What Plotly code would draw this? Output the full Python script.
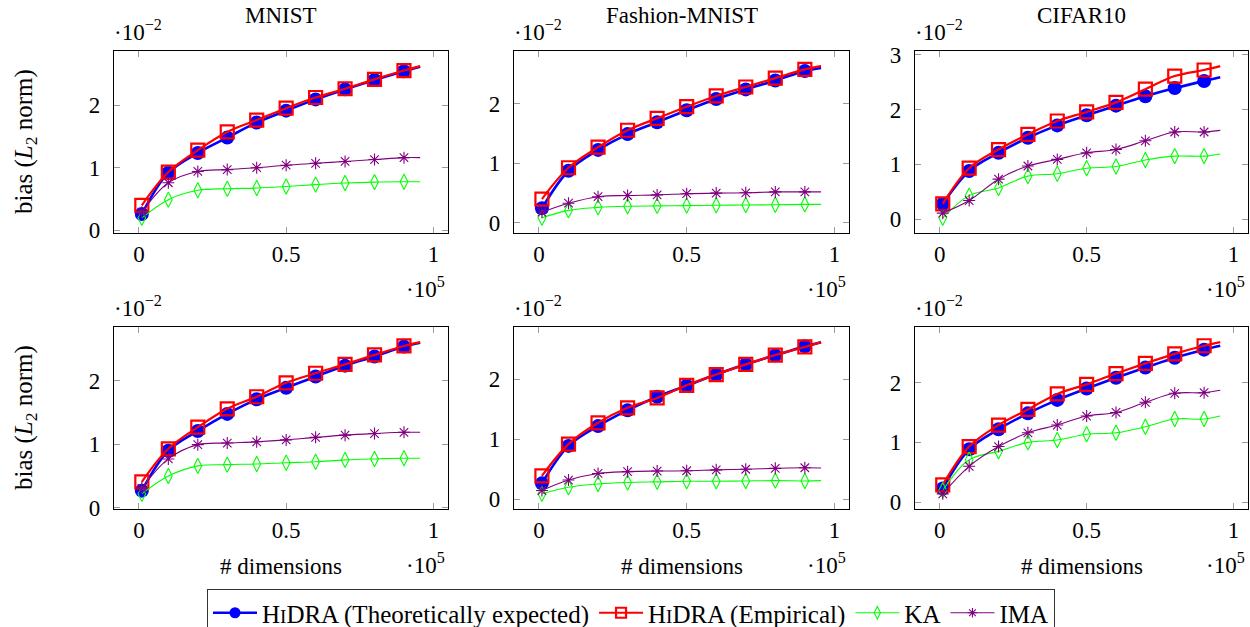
import plotly.graph_objects as go

# x values in units of 10^5 dimensions (last point = line end, unmarked)
dims = [0.01, 0.1, 0.2, 0.3, 0.4, 0.5, 0.6, 0.7, 0.8, 0.9, 0.955]
n_marked = 10

datasets = ["MNIST", "Fashion-MNIST", "CIFAR10"]
x_ticks = [0, 0.5, 1]
x_ticktext = ["0", "0.5", "1"]

# bias values in units of 10^-2 ; top row
mnist_top_theory = [0.26, 0.92, 1.235, 1.48, 1.72, 1.91, 2.09, 2.25, 2.40, 2.54, 2.61]
mnist_top_emp    = [0.40, 0.93, 1.28, 1.57, 1.76, 1.95, 2.12, 2.26, 2.41, 2.55, 2.62]
mnist_top_ka     = [0.20, 0.49, 0.64, 0.665, 0.675, 0.70, 0.73, 0.755, 0.77, 0.775, 0.775]
mnist_top_ima    = [0.29, 0.76, 0.94, 0.97, 1.00, 1.04, 1.07, 1.10, 1.13, 1.16, 1.16]

fmnist_top_theory = [0.245, 0.875, 1.225, 1.49, 1.69, 1.89, 2.08, 2.24, 2.39, 2.55, 2.60]
fmnist_top_emp    = [0.40, 0.925, 1.27, 1.555, 1.755, 1.95, 2.13, 2.28, 2.43, 2.575, 2.63]
fmnist_top_ka     = [0.085, 0.21, 0.26, 0.28, 0.285, 0.29, 0.295, 0.30, 0.305, 0.31, 0.31]
fmnist_top_ima    = [0.18, 0.33, 0.44, 0.46, 0.47, 0.49, 0.50, 0.505, 0.52, 0.52, 0.52]

cifar_top_theory = [0.28, 0.88, 1.21, 1.485, 1.71, 1.895, 2.07, 2.24, 2.39, 2.52, 2.59]
cifar_top_emp    = [0.28, 0.93, 1.27, 1.545, 1.79, 1.955, 2.13, 2.37, 2.61, 2.72, 2.79]
cifar_top_ka     = [0.025, 0.43, 0.57, 0.785, 0.83, 0.93, 0.96, 1.08, 1.15, 1.15, 1.19]
cifar_top_ima    = [0.11, 0.34, 0.73, 0.97, 1.09, 1.21, 1.27, 1.43, 1.59, 1.59, 1.62]

# bottom row
mnist_bot_theory = [0.27, 0.90, 1.21, 1.48, 1.71, 1.89, 2.07, 2.24, 2.385, 2.54, 2.60]
mnist_bot_emp    = [0.41, 0.93, 1.27, 1.56, 1.75, 1.97, 2.12, 2.26, 2.41, 2.55, 2.61]
mnist_bot_ka     = [0.22, 0.50, 0.66, 0.68, 0.69, 0.71, 0.725, 0.755, 0.77, 0.78, 0.78]
mnist_bot_ima    = [0.31, 0.77, 0.995, 1.02, 1.04, 1.07, 1.11, 1.145, 1.17, 1.19, 1.19]

fmnist_bot_theory = [0.265, 0.89, 1.22, 1.485, 1.71, 1.895, 2.08, 2.25, 2.40, 2.55, 2.62]
fmnist_bot_emp    = [0.39, 0.92, 1.275, 1.525, 1.69, 1.90, 2.08, 2.25, 2.405, 2.54, 2.62]
fmnist_bot_ka     = [0.09, 0.20, 0.255, 0.28, 0.29, 0.30, 0.30, 0.305, 0.31, 0.305, 0.31]
fmnist_bot_ima    = [0.145, 0.32, 0.43, 0.46, 0.47, 0.475, 0.49, 0.50, 0.515, 0.525, 0.52]

cifar_bot_theory = [0.23, 0.885, 1.22, 1.485, 1.71, 1.90, 2.08, 2.25, 2.415, 2.55, 2.615]
cifar_bot_emp    = [0.29, 0.93, 1.29, 1.55, 1.81, 1.97, 2.15, 2.32, 2.48, 2.615, 2.675]
cifar_bot_ka     = [0.20, 0.71, 0.85, 1.00, 1.04, 1.135, 1.16, 1.26, 1.39, 1.39, 1.44]
cifar_bot_ima    = [0.14, 0.60, 0.93, 1.16, 1.29, 1.44, 1.50, 1.67, 1.82, 1.83, 1.87]

panels = [
    [mnist_top_theory, mnist_top_emp, mnist_top_ka, mnist_top_ima],
    [fmnist_top_theory, fmnist_top_emp, fmnist_top_ka, fmnist_top_ima],
    [cifar_top_theory, cifar_top_emp, cifar_top_ka, cifar_top_ima],
    [mnist_bot_theory, mnist_bot_emp, mnist_bot_ka, mnist_bot_ima],
    [fmnist_bot_theory, fmnist_bot_emp, fmnist_bot_ka, fmnist_bot_ima],
    [cifar_bot_theory, cifar_bot_emp, cifar_bot_ka, cifar_bot_ima],
]

HIDRA = "H<span style='font-size:19px'>I</span>DRA"
series_names = [HIDRA + " (Theoretically expected)", HIDRA + " (Empirical)", "KA", "IMA"]
colors = ["#0000ff", "#ff0000", "#00ff00", "#800080"]
line_widths = [2.6, 2.2, 1.1, 1.1]
symbols = ["circle", "square-open", "diamond-tall-open", "asterisk-open"]
marker_sizes = [14, 13, 11, 10]
marker_line_widths = [0, 2.2, 1.1, 1.1]
legend_sizes = [11, 10, 9, 8]

W, H = 1250, 627
col_px = [(114, 448), (514, 849), (915, 1248)]
row_px = [(51, 233), (327, 509)]
FONT = "Liberation Serif, DejaVu Serif, serif"
FS = 23
LFS = 25


def px_x(p):
    return p / W


def px_y(p):
    return 1 - p / H


fig = go.Figure()
layout = dict(
    width=W, height=H, margin=dict(l=0, r=0, t=0, b=0, autoexpand=False),
    paper_bgcolor="white", plot_bgcolor="white",
    font=dict(family=FONT, size=FS, color="black"),
    showlegend=True,
)
annotations = []

for i, series in enumerate(panels):
    r, c = divmod(i, 3)
    idx = i + 1
    xa = "x" if idx == 1 else f"x{idx}"
    ya = "y" if idx == 1 else f"y{idx}"
    for s, vals in enumerate(series):
        fig.add_trace(go.Scatter(
            x=dims, y=vals, xaxis=xa, yaxis=ya, mode="lines",
            line=dict(color=colors[s], width=line_widths[s], shape="spline", smoothing=1.0),
            showlegend=False, hoverinfo="skip",
        ))
        fig.add_trace(go.Scatter(
            x=dims[:n_marked], y=vals[:n_marked], xaxis=xa, yaxis=ya, mode="markers",
            marker=dict(symbol=symbols[s], size=marker_sizes[s], color=colors[s],
                        line=dict(color=colors[s], width=marker_line_widths[s])),
            showlegend=False,
        ))
    allv = [v for vals in series for v in vals]
    lo, hi = min(allv), max(allv)
    pad = 0.1 * (hi - lo)
    xlo, xhi = min(dims), max(dims)
    xpad = 0.1 * (xhi - xlo)
    ytop = hi + pad
    yticks = [t for t in [0, 1, 2, 3] if lo - pad <= t <= ytop]
    axis_common = dict(
        showline=True, linecolor="black", linewidth=1.3, mirror="ticks",
        ticks="inside", ticklen=6, tickcolor="#9a9a9a", tickwidth=1,
        showgrid=False, zeroline=False, automargin=False,
        tickfont=dict(family=FONT, size=FS, color="black"),
    )
    layout["xaxis" if idx == 1 else f"xaxis{idx}"] = dict(
        axis_common, domain=[px_x(col_px[c][0]), px_x(col_px[c][1])],
        range=[xlo - xpad, xhi + xpad], tickvals=x_ticks, ticktext=x_ticktext,
        anchor=ya,
    )
    layout["yaxis" if idx == 1 else f"yaxis{idx}"] = dict(
        axis_common, domain=[px_y(row_px[r][1]), px_y(row_px[r][0])],
        range=[lo - pad, ytop], tickvals=yticks, ticktext=[str(t) for t in yticks],
        anchor=xa, ticklabelstandoff=8,
    )
    # exponent labels
    annotations.append(dict(
        text="·10<sup>−2</sup>", xref="paper", yref="paper",
        x=px_x(col_px[c][0] - 2), y=px_y(row_px[r][0] - 20), xanchor="left", yanchor="middle",
        showarrow=False, font=dict(family=FONT, size=FS),
    ))
    if r == 0:
        annotations.append(dict(
            text=datasets[c], xref="paper", yref="paper",
            x=px_x((col_px[c][0] + col_px[c][1]) / 2), y=px_y(15), xanchor="center", yanchor="middle",
            showarrow=False, font=dict(family=FONT, size=FS),
        ))
    ex_y = 288 if r == 0 else 563
    annotations.append(dict(
        text="·10<sup>5</sup>", xref="paper", yref="paper",
        x=px_x(col_px[c][1] - 1), y=px_y(ex_y), xanchor="right", yanchor="middle",
        showarrow=False, font=dict(family=FONT, size=FS),
    ))
    if r == 1:
        annotations.append(dict(
            text="# dimensions", xref="paper", yref="paper",
            x=px_x((col_px[c][0] + col_px[c][1]) / 2), y=px_y(566), xanchor="center", yanchor="middle",
            showarrow=False, font=dict(family=FONT, size=FS),
        ))
    if c == 0:
        annotations.append(dict(
            text="bias (<i>L</i><sub>2</sub> norm)", xref="paper", yref="paper",
            x=px_x(25), y=px_y((row_px[r][0] + row_px[r][1]) / 2), xanchor="center", yanchor="middle",
            textangle=-90, showarrow=False, font=dict(family=FONT, size=25),
        ))

# legend-only traces
for s in range(4):
    fig.add_trace(go.Scatter(
        x=[None], y=[None], mode="lines+markers", name=series_names[s],
        line=dict(color=colors[s], width=line_widths[s]),
        marker=dict(symbol=symbols[s], size=legend_sizes[s], color=colors[s],
                    line=dict(color=colors[s], width=marker_line_widths[s])),
    ))

layout["legend"] = dict(
    orientation="h", x=px_x(631), xanchor="center", y=px_y(589), yanchor="top",
    bordercolor="#333333", borderwidth=1, bgcolor="white",
    font=dict(family=FONT, size=LFS), itemwidth=44, tracegroupgap=0,
)
layout["annotations"] = annotations
fig.update_layout(**layout)
fig.write_html(
    "out.html",
    config={"displayModeBar": False},
    post_script="document.body.style.margin='0';document.body.style.padding='0';"
                "document.body.style.overflow='hidden';",
)
